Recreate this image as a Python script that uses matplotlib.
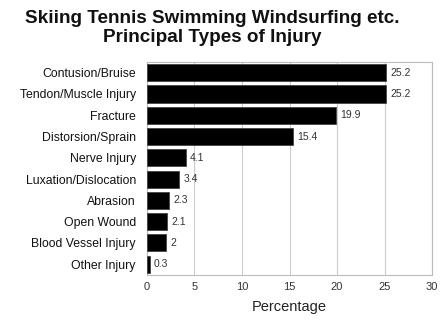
import matplotlib
matplotlib.use("Agg")
import matplotlib.pyplot as plt

categories = ["Contusion/Bruise", "Tendon/Muscle Injury", "Fracture", "Distorsion/Sprain",
              "Nerve Injury", "Luxation/Dislocation", "Abrasion", "Open Wound",
              "Blood Vessel Injury", "Other Injury"]
values = [25.2, 25.2, 19.9, 15.4, 4.1, 3.4, 2.3, 2.1, 2, 0.3]
value_labels = ["25.2", "25.2", "19.9", "15.4", "4.1", "3.4", "2.3", "2.1", "2", "0.3"]
xticks = [0, 5, 10, 15, 20, 25, 30]

plt.rcParams['font.family'] = ['Liberation Sans', 'DejaVu Sans']

fig = plt.figure(figsize=(4.4, 3.2), dpi=100)
ax = fig.add_axes([0.334, 0.141, 0.648, 0.665])

ypos = list(range(len(categories)))
ax.barh(ypos, values, height=0.8, color='black', edgecolor='#444444', linewidth=0.6, zorder=3)
for y, v, lab in zip(ypos, values, value_labels):
    ax.text(v + 0.45, y, lab, va='center', ha='left', fontsize=7.5, color='#333333')

ax.set_ylim(9.5, -0.5)
ax.set_xlim(0, 30)
ax.set_yticks(ypos)
ax.set_yticklabels(categories, fontsize=8.8, color='#111111')
ax.set_xticks(xticks)
ax.set_xticklabels([str(t) for t in xticks], fontsize=8, color='#333333')
ax.tick_params(axis='y', length=0, pad=8)
ax.tick_params(axis='x', length=0, pad=5)
ax.xaxis.grid(True, color='#cccccc', linewidth=0.8, zorder=0)
ax.set_axisbelow(True)
for s in ax.spines.values():
    s.set_color('#bbbbbb')
    s.set_linewidth(0.8)
ax.set_xlabel("Percentage", fontsize=10.5, color='#222222', labelpad=6)

fig.text(0.482, 0.97, "Skiing Tennis Swimming Windsurfing etc.\nPrincipal Types of Injury",
         ha='center', va='top', fontsize=13.6, fontweight='bold', linespacing=1.15,
         color='#111111')

fig.savefig("out.png", dpi=100, facecolor='white')
